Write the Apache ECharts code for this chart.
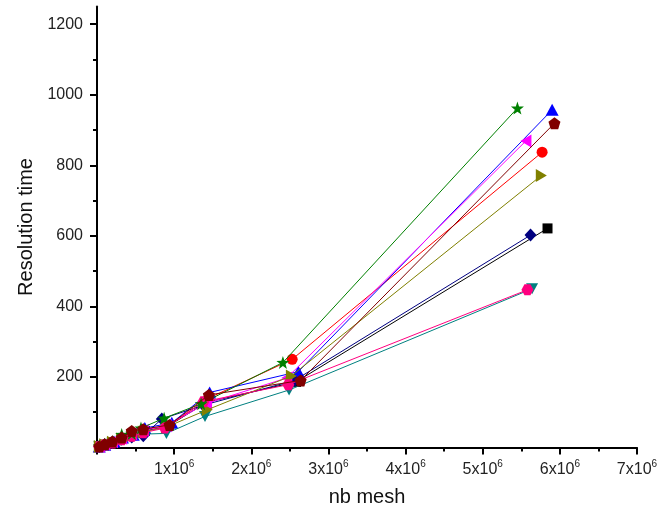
<!DOCTYPE html>
<html>
<head>
<meta charset="utf-8">
<script src="https://cdn.jsdelivr.net/npm/echarts@6/dist/echarts.min.js"></script>
<style>
html,body{margin:0;padding:0;background:#fff;}
#chart{width:663px;height:514px;}
</style>
</head>
<body>
<div id="chart"></div>
<script>
// ---- data (x = nb mesh, y = resolution time) ----
var seriesNames = ['A','B','C','D','E','F','G','H','I','J'];
var blackSquareX = [30000,100000,200000,320000,450000,620000,930000,1420000,2580000,5840000];
var blackSquareY = [3,8,15,25,35,47,62,128,186,621];
var redCircleX = [30000,100000,200000,320000,450000,600000,920000,1450000,2530000,5770000];
var redCircleY = [3,8,15,26,38,50,60,140,250,837];
var blueTriX = [30000,100000,220000,330000,470000,620000,970000,1460000,2610000,5900000];
var blueTriY = [3,8,17,28,36,55,70,156,215,957];
var tealDownX = [30000,100000,200000,320000,460000,620000,900000,1400000,2490000,5640000];
var tealDownY = [2,6,12,20,30,38,40,88,163,450];
var navyDiamondX = [30000,100000,200000,300000,450000,600000,840000,1380000,2560000,5620000];
var navyDiamondY = [3,8,14,24,30,33,81,120,190,602];
var magentaLeftX = [30000,100000,200000,320000,450000,600000,900000,1420000,2460000,5560000];
var magentaLeftY = [3,9,16,26,38,48,62,125,197,869];
var oliveRightX = [30000,100000,200000,320000,450000,600000,900000,1430000,2520000,5760000];
var oliveRightY = [3,8,15,24,34,44,58,107,203,771];
var pinkHexX = [30000,100000,200000,320000,450000,600000,880000,1380000,2480000,5580000];
var pinkHexY = [2,7,13,22,32,42,55,130,178,447];
var greenStarX = [30000,100000,200000,320000,450000,570000,870000,1350000,2410000,5450000];
var greenStarY = [4,9,17,37,40,55,83,124,241,962];
var maroonPentX = [30000,100000,200000,320000,450000,600000,940000,1450000,2640000,5930000];
var maroonPentY = [3,9,17,28,47,52,64,149,190,919];

var xLabelValues = [1000000,2000000,3000000,4000000,5000000,6000000,7000000];
var yLabelValues = [200,400,600,800,1000,1200];
var yMinorTickValues = [100,300,500,700,900,1100];

// ---- symbol paths (style only) ----
function polyPath(n, rOuter, rInner, startDeg){
  var pts=[], k = rInner ? 2*n : n;
  for (var i=0;i<k;i++){
    var r = (rInner && i%2===1) ? rInner : rOuter;
    var a = (startDeg + i*360/k) * Math.PI/180;
    pts.push((50 + r*Math.cos(a)).toFixed(2)+','+(50 + r*Math.sin(a)).toFixed(2));
  }
  return 'path://M' + pts.join(' L') + ' Z';
}
var starPath = polyPath(5, 50, 20, -90);
var pentPath = polyPath(5, 50, 0, -90);
var hexPath = polyPath(6, 50, 0, 0);
var downTri = 'path://M0,0 L100,0 L50,90 Z';
var leftTri = 'path://M0,50 L90,0 L90,100 Z';
var rightTri = 'path://M0,0 L90,50 L0,100 Z';

function pairs(xs, ys){ return xs.map(function(x,i){ return [x, ys[i]]; }); }

var defs = [
  {x: blackSquareX, y: blackSquareY, color:'#000000', symbol:'rect', size:10},
  {x: redCircleX, y: redCircleY, color:'#ff0000', symbol:'circle', size:11},
  {x: blueTriX, y: blueTriY, color:'#0000ff', symbol:'triangle', size:[13,12]},
  {x: tealDownX, y: tealDownY, color:'#008080', symbol:downTri, size:[12,11]},
  {x: navyDiamondX, y: navyDiamondY, color:'#000080', symbol:'diamond', size:[12,13]},
  {x: magentaLeftX, y: magentaLeftY, color:'#ff00ff', symbol:leftTri, size:[11,13]},
  {x: oliveRightX, y: oliveRightY, color:'#808000', symbol:rightTri, size:[11,13]},
  {x: pinkHexX, y: pinkHexY, color:'#ff0080', symbol:hexPath, size:[12,11]},
  {x: greenStarX, y: greenStarY, color:'#008000', symbol:starPath, size:13},
  {x: maroonPentX, y: maroonPentY, color:'#800000', symbol:pentPath, size:12}
];

var series = defs.map(function(d, i){
  return {
    name: seriesNames[i],
    type: 'line',
    data: pairs(d.x, d.y),
    symbol: d.symbol,
    symbolSize: d.size,
    showAllSymbol: true,
    lineStyle: {color: d.color, width: 1},
    itemStyle: {color: d.color, borderWidth: 0},
    animation: false,
    z: 2 + i
  };
});

var font = '"Liberation Sans", Arial, sans-serif';

var chart = echarts.init(document.getElementById('chart'), null, {renderer:'canvas'});
chart.setOption({
  animation: false,
  backgroundColor: '#ffffff',
  grid: {left: 97, right: 26, top: 6.5, bottom: 66.5, containLabel: false},
  xAxis: {
    type: 'value', min: 0, max: 7000000, interval: 1000000,
    name: 'nb mesh', nameLocation: 'middle', nameGap: 40,
    nameTextStyle: {fontFamily: font, fontSize: 20, color: '#111'},
    axisLine: {show: true, onZero: false, lineStyle: {color: '#000', width: 2}},
    axisTick: {show: true, inside: false, length: 7, lineStyle: {color: '#000', width: 2}},
    minorTick: {show: true, splitNumber: 2, length: 4, lineStyle: {color: '#000', width: 2}},
    splitLine: {show: false},
    axisLabel: {
      margin: 12,
      customValues: xLabelValues,
      fontFamily: font,
      formatter: function(v){ return '{a|' + Math.round(v/1000000) + 'x10}{b|6}'; },
      rich: {
        a: {fontFamily: font, fontSize: 16, color: '#222', lineHeight: 20},
        b: {fontFamily: font, fontSize: 10, color: '#222', padding: [0,0,10,0]}
      }
    }
  },
  yAxis: [{
    type: 'value', min: 0, max: 1250, interval: 200,
    name: 'Resolution time', nameLocation: 'middle', nameGap: 60, nameRotate: 90,
    nameTextStyle: {fontFamily: font, fontSize: 20, color: '#111'},
    axisLine: {show: true, onZero: false, lineStyle: {color: '#000', width: 2}},
    axisTick: {show: true, inside: false, length: 7, customValues: yLabelValues, lineStyle: {color: '#000', width: 2}},
    splitLine: {show: false},
    axisLabel: {margin: 14, customValues: yLabelValues, fontFamily: font, fontSize: 16, color: '#222',
      formatter: function(v){ return String(v); }}
  }, {
    type: 'value', min: 0, max: 1250, position: 'left', offset: 0,
    axisLine: {show: true, onZero: false, lineStyle: {color: '#000', width: 2, opacity: 0}},
    axisTick: {show: true, inside: false, length: 4, customValues: yMinorTickValues, lineStyle: {color: '#000', width: 2, opacity: 1}},
    axisLabel: {show: false},
    splitLine: {show: false}
  }],
  series: series
});
</script>
</body>
</html>
